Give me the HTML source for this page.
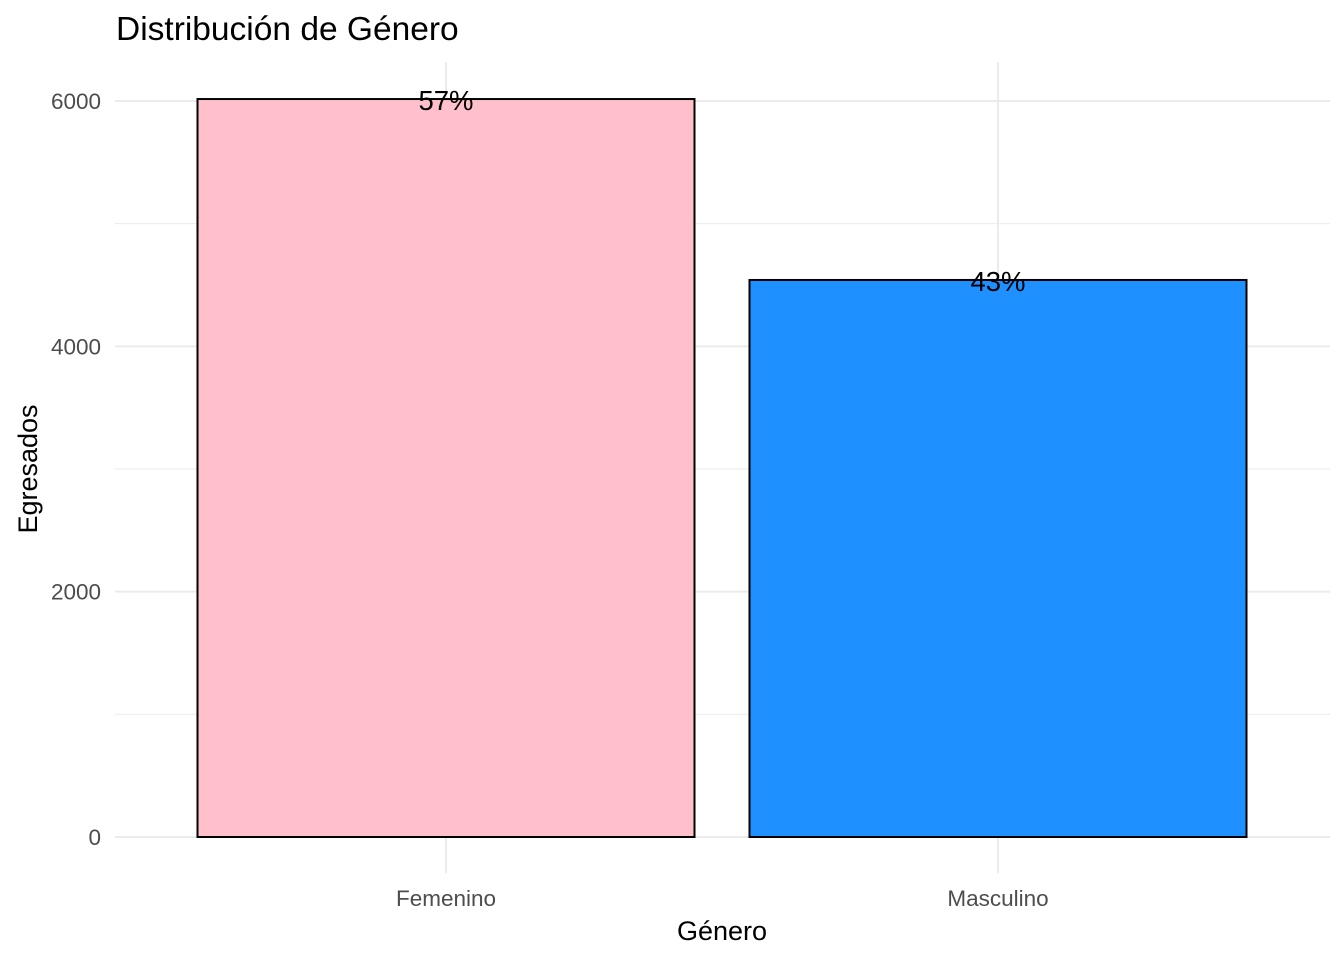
<!DOCTYPE html>
<html><head><meta charset="utf-8"><style>
body{margin:0;background:#fff;}
svg text{font-family:"Liberation Sans",Arial,sans-serif;}
</style></head><body>
<svg id="chart" width="1344" height="960">
<text x="116" y="40" font-size="33.5" fill="#000">Distribución de Género</text>
<g id="grid"></g>
<g id="bars"></g>
<g id="labels"></g>
<g id="axes"></g>
<text x="722" y="940" font-size="27" text-anchor="middle" fill="#000">Género</text>
<text transform="translate(37,469) rotate(-90)" font-size="27" text-anchor="middle" fill="#000">Egresados</text>
</svg>
<script>
const categories=["Femenino","Masculino"];
const values=[6016,4541];
const percentLabels=["57%","43%"];
const yTicks=[0,2000,4000,6000];
const yMinor=[1000,3000,5000,7000];
const colors=["#FFC0CB","#1E90FF"];
const NS="http://www.w3.org/2000/svg";
const px0=115,px1=1330,py0=837,pyTop=62;
const y=v=>py0-v*(736/6000);
const cx=i=>446+552*i;
function mk(tag,attrs,parent){const e=document.createElementNS(NS,tag);for(const k in attrs)e.setAttribute(k,attrs[k]);parent.appendChild(e);return e;}
const grid=document.getElementById('grid'),bars=document.getElementById('bars'),labels=document.getElementById('labels'),axes=document.getElementById('axes');
yMinor.forEach(v=>{if(y(v)<pyTop)return;const l=mk('line',{x1:px0,x2:px1,y1:y(v),y2:y(v),stroke:'#ebebeb','stroke-width':1},grid);

});
yTicks.forEach(v=>{const l=mk('line',{x1:px0,x2:px1,y1:y(v),y2:y(v),stroke:'#ebebeb','stroke-width':2},grid);


const t=mk('text',{x:101,y:y(v)+8,'font-size':22.5,'text-anchor':'end',fill:'#4d4d4d'},axes);t.textContent=v;

});
categories.forEach((c,i)=>{const g=mk('line',{x1:cx(i),x2:cx(i),y1:pyTop,y2:873,stroke:'#ebebeb','stroke-width':2},grid);


const w=497;
const r=mk('rect',{x:cx(i)-w/2,y:y(values[i]),width:w,height:py0-y(values[i]),fill:colors[i],stroke:'#000','stroke-width':2},bars);


const t=mk('text',{x:cx(i),y:y(values[i])+11,'font-size':27.5,'text-anchor':'middle',fill:'#000'},labels);t.textContent=percentLabels[i];


const xl=mk('text',{x:cx(i),y:906,'font-size':22.5,'text-anchor':'middle',fill:'#4d4d4d'},axes);xl.textContent=c;

});
</script>
</body></html>
